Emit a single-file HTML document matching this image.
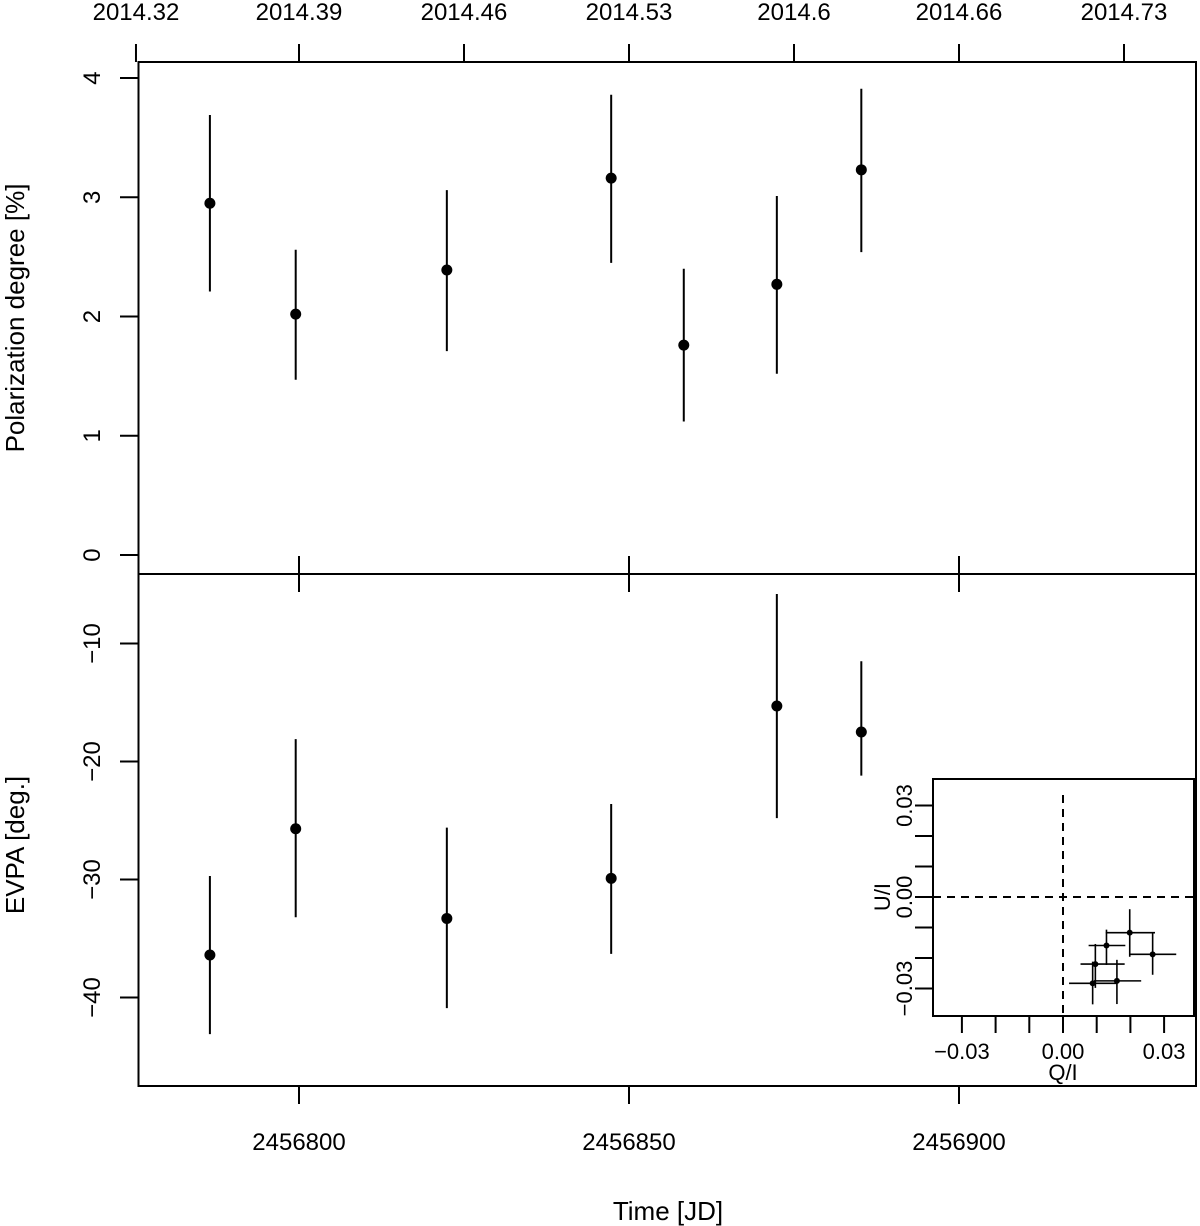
<!DOCTYPE html>
<html><head><meta charset="utf-8"><style>
html,body{margin:0;padding:0;background:#fff}
svg{display:block;font-family:"Liberation Sans",Arial,sans-serif}
</style></head><body>
<svg id="chart" width="1200" height="1226" viewBox="0 0 1200 1226" xmlns="http://www.w3.org/2000/svg"></svg>
<script>
// ---- data ----
const jdTimes = [2456786.5, 2456799.5, 2456822.4, 2456847.3, 2456858.3, 2456872.4, 2456885.2];
const pdValues = [2.95, 2.02, 2.39, 3.16, 1.76, 2.27, 3.23];
const pdLow = [2.21, 1.47, 1.71, 2.45, 1.12, 1.52, 2.54];
const pdHigh = [3.69, 2.56, 3.06, 3.86, 2.40, 3.01, 3.91];
const evpaTimes = [2456786.5, 2456799.5, 2456822.4, 2456847.3, 2456872.4, 2456885.2];
const evpaValues = [-36.4, -25.7, -33.3, -29.9, -15.3, -17.5];
const evpaLow = [-43.1, -33.2, -40.9, -36.3, -24.8, -21.2];
const evpaHigh = [-29.7, -18.1, -25.6, -23.6, -5.8, -11.5];
const qValues = [0.0198, 0.0266, 0.0129, 0.0096, 0.0160, 0.0088];
const qLow = [0.0127, 0.0200, 0.0076, 0.0052, 0.0092, 0.0018];
const qHigh = [0.0273, 0.0336, 0.0185, 0.0183, 0.0232, 0.0159];
const uValues = [-0.0117, -0.0188, -0.0159, -0.0220, -0.0275, -0.0283];
const uLow = [-0.0196, -0.0255, -0.0223, -0.0298, -0.0351, -0.0352];
const uHigh = [-0.0040, -0.0116, -0.0107, -0.0154, -0.0206, -0.0212];
const jdTicks = [2456800, 2456850, 2456900];
const yearTicks = ["2014.32","2014.39","2014.46","2014.53","2014.6","2014.66","2014.73"];
const yearTickJD = [2456775.3, 2456800, 2456825, 2456850, 2456875, 2456900, 2456925];
const pdTicks = [0,1,2,3,4];
const evpaTicks = [-40,-30,-20,-10];
const insetTicks = [-0.03,-0.02,-0.01,0,0.01,0.02,0.03];
const insetLabels = ["−0.03","0.00","0.03"];

// ---- scales ----
const X = jd => 299 + (jd - 2456800) * 6.6;
const Ypd = v => 555 - v * 119.25;
const Yev = v => 643.5 - (v + 10) * 11.8;
const Xq = v => 1063 + v * 3370;
const Yu = v => 897 - v * 3050;

const svg = document.getElementById('chart');
const NS = 'http://www.w3.org/2000/svg';
function mk(tag, attrs, parent) {
  const e = document.createElementNS(NS, tag);
  for (const k in attrs) e.setAttribute(k, attrs[k]);
  (parent || svg).appendChild(e);
  return e;
}
function line(x1,y1,x2,y2,w,extra){return mk('line',Object.assign({x1,y1,x2,y2,stroke:'#000','stroke-width':w||2},extra||{}));}
function text(x,y,s,size,anchor,rot){
  const t = mk('text',{x,y,'font-size':size,'text-anchor':anchor||'middle',fill:'#000'});
  if(rot) t.setAttribute('transform',`rotate(-90 ${x} ${y})`);
  t.textContent = s; return t;
}

// frames
const f1 = mk('rect',{x:138.5,y:62,width:1057.5,height:512,fill:'none',stroke:'#000','stroke-width':2});


const f2 = mk('rect',{x:138.5,y:574,width:1057.5,height:512,fill:'none',stroke:'#000','stroke-width':2});



// top year axis
yearTicks.forEach((s,i)=>{
  const x = X(yearTickJD[i]);
  line(x,44,x,62);
  const t = text(x,20,s,24);
  
  
});
// bottom JD axis + divider ticks
jdTicks.forEach(v=>{
  const x = X(v);
  line(x,1086,x,1104);
  line(x,574,x,592);
  line(x,556,x,574);
  const t = text(x,1150,String(v),24);
  
  
});
const xt = text(668,1220,'Time [JD]',26);



// PD axis
pdTicks.forEach(v=>{
  const y = Ypd(v);
  line(120,y,138.5,y);
  const t = text(100,y,String(v),24,'middle',true);
  
  
});
const pt = text(24,318,'Polarization degree [%]',26,'middle',true);



// EVPA axis
evpaTicks.forEach(v=>{
  const y = Yev(v);
  line(120,y,138.5,y);
  const t = text(100,y,'−'+Math.abs(v),24,'middle',true);
  
  
});
const et = text(24,845,'EVPA [deg.]',26,'middle',true);



// PD series
jdTimes.forEach((jd,i)=>{
  const x = X(jd);
  const e = line(x,Ypd(pdLow[i]),x,Ypd(pdHigh[i]),2);
  
  
  const c = mk('circle',{cx:x,cy:Ypd(pdValues[i]),r:5.5,fill:'#000'});
  
  
});
// EVPA series
evpaTimes.forEach((jd,i)=>{
  const x = X(jd);
  const e = line(x,Yev(evpaLow[i]),x,Yev(evpaHigh[i]),2);
  
  
  const c = mk('circle',{cx:x,cy:Yev(evpaValues[i]),r:5.5,fill:'#000'});
  
  
});

// inset
const ir = mk('rect',{x:933,y:779,width:261,height:237,fill:'#fff',stroke:'#000','stroke-width':2});


insetTicks.forEach(v=>{
  line(Xq(v),1016,Xq(v),1033);
  line(915,Yu(v),933,Yu(v));
});
[-0.03,0,0.03].forEach((v,i)=>{
  const t = text(Xq(v),1059,insetLabels[i],22);
  
  
  const t2 = text(912,Yu(v),insetLabels[i],22,'middle',true);
  
  
});
const qt = text(1063,1080,'Q/I',22);


const ut = text(890,897,'U/I',22,'middle',true);


const dv = line(Xq(0),795,Xq(0),1016,2,{'stroke-dasharray':'8,6'});


const dh = line(933,Yu(0),1194,Yu(0),2,{'stroke-dasharray':'8,6'});


qValues.forEach((q,i)=>{
  const x = Xq(q), y = Yu(uValues[i]);
  const h = line(Xq(qLow[i]),y,Xq(qHigh[i]),y,1.6);
  
  
  const v = line(x,Yu(uLow[i]),x,Yu(uHigh[i]),1.6);
  
  
  const c = mk('circle',{cx:x,cy:y,r:3,fill:'#000'});
  
  
});
</script>
</body></html>
